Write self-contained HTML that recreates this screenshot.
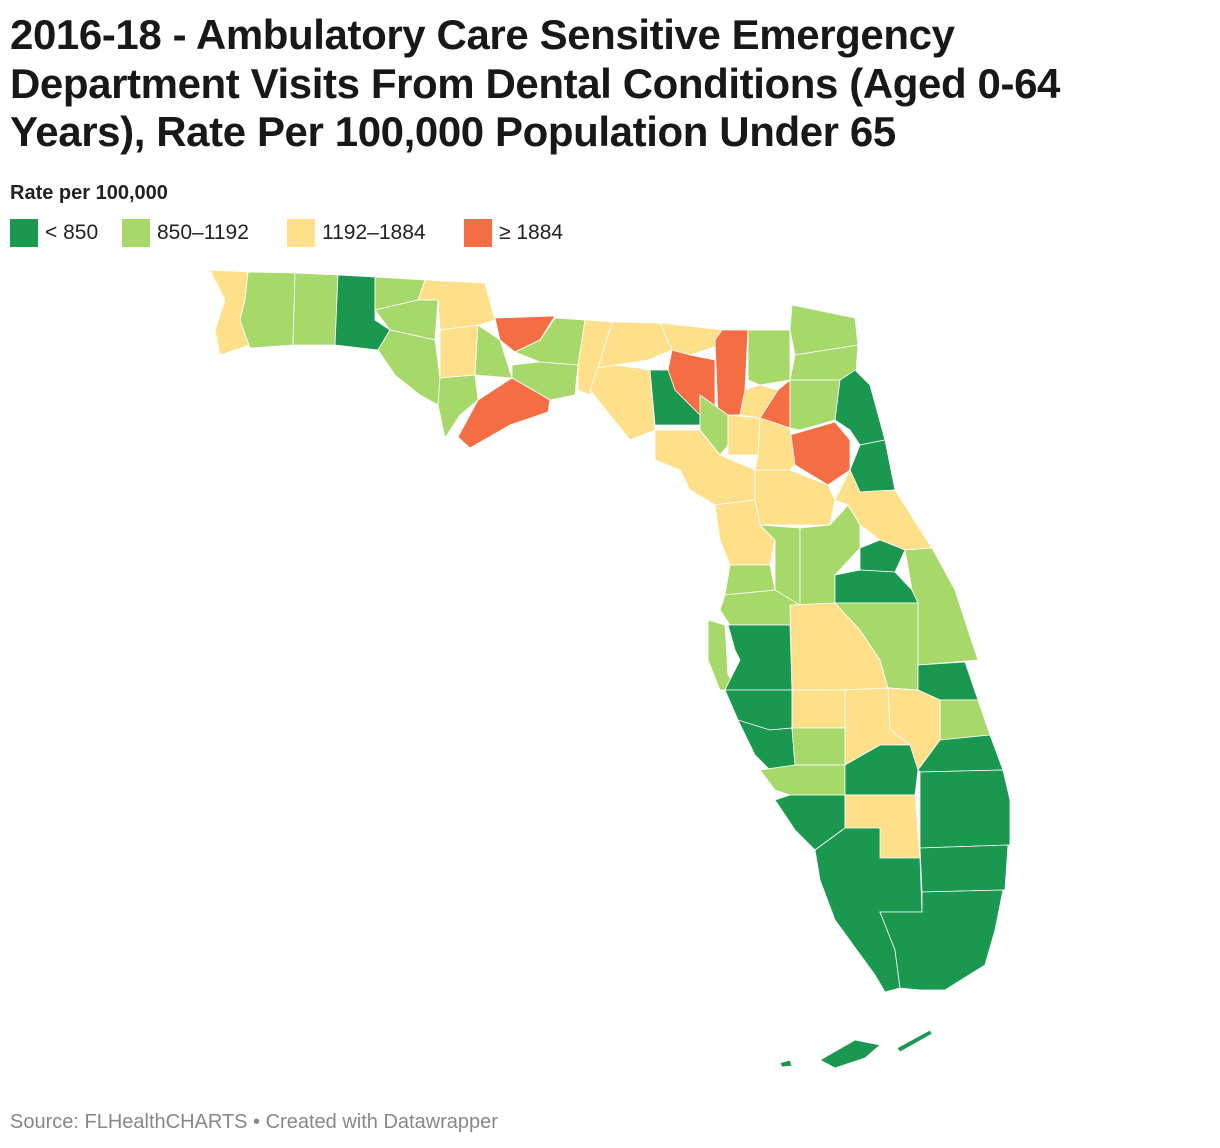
<!DOCTYPE html>
<html><head><meta charset="utf-8">
<style>
body{margin:0;background:#fff;font-family:"Liberation Sans",Arial,sans-serif;}
#wrap{position:relative;width:1220px;height:1148px;overflow:hidden;}
h1{position:absolute;left:10px;top:11px;margin:0;font-size:42px;line-height:48.5px;font-weight:bold;color:#181818;width:1110px;letter-spacing:-0.4px;}
.lt{position:absolute;left:10px;top:182px;font-size:20px;font-weight:bold;color:#222;}
.leg{position:absolute;top:219px;height:28px;display:flex;align-items:center;font-size:21px;color:#222;}
.sw{width:28px;height:28px;margin-right:7px;}
.src{position:absolute;left:10px;top:1111px;font-size:20px;color:#888;}
svg{position:absolute;left:0;top:0;}
</style></head><body>
<div id="wrap">
<h1>2016-18 - Ambulatory Care Sensitive Emergency Department Visits From Dental Conditions (Aged 0-64 Years), Rate Per 100,000 Population Under 65</h1>
<div class="lt">Rate per 100,000</div>
<div class="leg" style="left:10px"><div class="sw" style="background:#1a9850"></div>&lt; 850</div>
<div class="leg" style="left:122px"><div class="sw" style="background:#a6d96a"></div>850–1192</div>
<div class="leg" style="left:287px"><div class="sw" style="background:#fee08b"></div>1192–1884</div>
<div class="leg" style="left:464px"><div class="sw" style="background:#f46d43"></div>≥ 1884</div>
<svg id="map" width="1220" height="1148"></svg>
<div class="src">Source: FLHealthCHARTS • Created with Datawrapper</div>
</div>
<script>
const thresholds=[850,1192,1884];
const colors=["#1a9850","#a6d96a","#fee08b","#f46d43"];
const countyNames=["Escambia","Santa Rosa","Okaloosa","Walton","Holmes","Washington","Bay","Jackson","Calhoun","Gulf","Liberty","Gadsden","Leon","Wakulla","Franklin","Jefferson","Madison","Hamilton","Taylor","Lafayette","Suwannee","Columbia","Baker","Nassau","Duval","Union","Bradford","Clay","St. Johns","Putnam","Flagler","Dixie","Gilchrist","Alachua","Levy","Marion","Volusia","Citrus","Sumter","Lake","Seminole","Orange","Brevard","Hernando","Pasco","Pinellas","Hillsborough","Polk","Osceola","Indian River","St. Lucie","Okeechobee","Manatee","Hardee","Highlands","Sarasota","DeSoto","Martin","Charlotte","Glades","Palm Beach","Lee","Hendry","Collier","Broward","Miami-Dade","Monroe","Monroe Keys 2","Monroe Keys 3"];
const countyValues=[1400,1000,950,780,1050,1100,1000,1350,1500,1000,1150,2100,1000,1050,2300,1300,1400,1300,1500,700,2200,2000,1100,1000,1050,1500,2100,1000,650,2000,700,1100,1300,1400,1500,1350,1300,1300,1000,1000,700,750,1000,1050,1100,1000,750,1400,1100,700,1050,1500,700,1300,1400,700,1000,700,1050,750,700,750,1300,700,700,700,750,750,750];
const shapes=[
[[210,270],[248,272],[245,300],[240,320],[250,345],[220,355],[215,330],[225,300]],
[[248,272],[295,273],[293,345],[250,348],[240,320],[245,300]],
[[295,273],[338,275],[335,345],[293,345]],
[[338,275],[375,277],[375,320],[390,330],[378,350],[335,345]],
[[375,277],[425,280],[418,300],[375,310]],
[[375,310],[418,300],[438,300],[435,340],[390,330]],
[[378,350],[390,330],[435,340],[440,378],[438,405],[420,395],[395,375]],
[[425,280],[485,283],[495,320],[480,325],[440,330],[438,300],[418,300]],
[[440,330],[478,325],[475,375],[440,378]],
[[440,378],[475,375],[478,400],[460,415],[445,438],[438,405]],
[[478,325],[500,340],[512,378],[475,375]],
[[495,318],[555,316],[540,340],[515,352],[500,340]],
[[555,318],[585,320],[578,365],[540,362],[515,352],[540,340]],
[[512,365],[540,362],[578,365],[575,395],[550,400],[512,378]],
[[478,400],[512,378],[550,400],[548,412],[510,425],[470,448],[458,437]],
[[585,320],[612,322],[598,368],[590,395],[578,390],[578,365]],
[[612,322],[660,323],[672,350],[648,360],[615,365],[598,368]],
[[660,323],[725,330],[720,345],[690,355],[672,350]],
[[590,390],[598,368],[615,365],[650,370],[655,430],[630,440]],
[[650,370],[668,370],[700,395],[700,425],[655,425]],
[[672,350],[690,355],[715,360],[715,415],[700,415],[675,390],[668,370]],
[[715,340],[722,330],[748,330],[745,390],[740,415],[718,415]],
[[748,330],[790,330],[790,380],[760,385],[748,380]],
[[792,305],[855,318],[858,345],[795,355],[790,330]],
[[795,355],[858,345],[855,385],[840,380],[790,380]],
[[745,390],[760,385],[778,390],[760,418],[740,415]],
[[778,390],[790,380],[790,428],[760,418]],
[[790,380],[840,380],[835,420],[800,430],[790,428]],
[[840,380],[855,370],[870,385],[885,440],[860,445],[850,430],[835,420]],
[[790,435],[835,422],[850,440],[850,470],[828,485],[795,465]],
[[860,445],[885,440],[895,490],[860,492],[850,470]],
[[700,395],[728,415],[728,445],[720,455],[700,430]],
[[728,415],[760,418],[758,455],[728,455]],
[[760,418],[790,428],[795,465],[790,470],[755,470],[758,455]],
[[655,430],[700,430],[720,455],[755,470],[755,500],[715,505],[690,490],[680,470],[655,460]],
[[755,470],[790,470],[828,485],[835,500],[830,525],[760,525],[755,500]],
[[835,500],[850,470],[860,492],[895,490],[932,548],[905,550],[880,540],[860,525],[848,505]],
[[715,505],[755,500],[760,525],[775,540],[770,565],[730,565],[720,540]],
[[760,525],[800,528],[800,605],[775,600],[775,540]],
[[800,528],[830,525],[848,505],[860,525],[860,548],[835,575],[835,605],[800,605]],
[[860,548],[880,540],[905,550],[895,572],[860,570]],
[[835,575],[860,570],[895,572],[912,590],[918,603],[835,603]],
[[905,550],[932,548],[955,590],[968,630],[978,660],[918,665],[918,603],[912,590]],
[[730,565],[770,565],[775,590],[725,595]],
[[725,595],[775,590],[800,605],[790,625],[730,625],[720,610]],
[[708,620],[725,625],[728,675],[740,690],[720,690],[708,660]],
[[728,625],[790,625],[792,690],[725,690],[740,660],[735,650]],
[[790,605],[835,603],[860,630],[880,660],[888,688],[845,690],[792,690]],
[[835,603],[918,603],[918,690],[888,688],[880,660],[860,630]],
[[918,665],[965,662],[978,700],[940,700],[918,690]],
[[940,700],[978,700],[990,735],[940,740]],
[[888,688],[918,690],[940,700],[940,740],[918,770],[910,745],[890,730]],
[[725,690],[792,690],[792,728],[770,730],[770,760],[755,755],[738,720]],
[[792,690],[845,690],[845,728],[792,728]],
[[845,690],[888,688],[890,730],[910,745],[880,745],[845,765]],
[[738,720],[770,730],[792,728],[795,765],[770,770],[755,755]],
[[792,728],[845,728],[845,765],[795,765]],
[[918,770],[940,740],[990,735],[1003,770],[920,772]],
[[760,770],[795,765],[845,765],[845,795],[790,795],[775,790]],
[[845,765],[880,745],[910,745],[918,770],[915,795],[845,795]],
[[920,772],[1003,770],[1010,800],[1010,845],[920,848]],
[[775,800],[790,795],[845,795],[845,828],[815,850],[795,830]],
[[845,795],[915,795],[920,858],[880,858],[880,828],[845,828]],
[[815,850],[845,828],[880,828],[880,858],[920,858],[922,912],[880,912],[895,950],[900,988],[885,992],[875,975],[835,920],[820,880]],
[[920,848],[1008,845],[1005,890],[922,892]],
[[922,892],[1003,890],[995,930],[985,965],[945,990],[920,990],[900,988],[895,950],[880,912],[922,912]],
[[820,1060],[855,1040],[880,1045],[865,1058],[835,1068]],
[[897,1048],[930,1030],[932,1034],[900,1052]],
[[780,1063],[790,1060],[792,1066],[782,1067]]
];
function colorFor(v){let i=0;while(i<thresholds.length&&v>=thresholds[i])i++;return colors[i];}
const svg=document.getElementById('map');
const NS="http://www.w3.org/2000/svg";
countyNames.forEach((n,i)=>{
  const p=document.createElementNS(NS,'polygon');
  p.setAttribute('points',shapes[i].map(q=>q.join(',')).join(' '));
  p.setAttribute('fill',colorFor(countyValues[i]));
  p.setAttribute('stroke','#fff');
  p.setAttribute('stroke-width','0.8');
  
  
  svg.appendChild(p);
});
</script>
</body></html>
